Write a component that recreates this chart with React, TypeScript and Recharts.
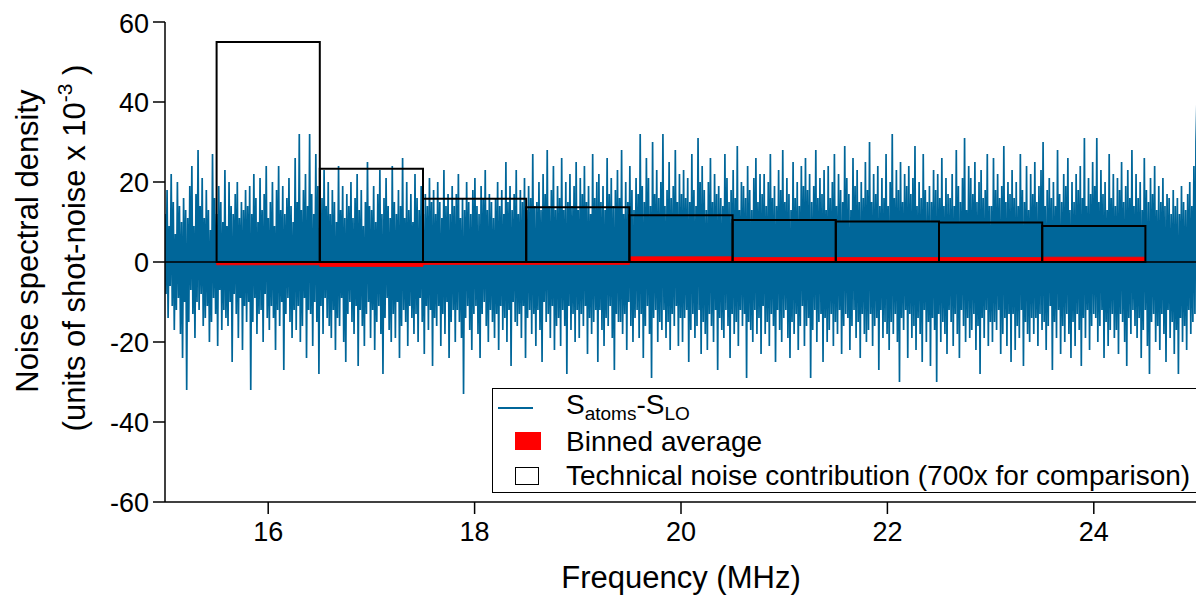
import { ComposedChart, Line, XAxis, YAxis, ReferenceArea, ReferenceLine } from "recharts"

const FONT = "'Liberation Sans', Arial, Helvetica, sans-serif"
const BLUE = "#006699"

// S_atoms - S_LO (units of shot-noise x 1e-3), 15 -> 25 MHz
const noiseValues = [
  12, -8, 18, -14, 9, -6, 22, -11, 15, -17, 7, -12, 20, -9, 14, -18, 10, -24, 16, -10,
  13, -32, 11, -15, 19, -7, 24, -13, 9, -19, 17, -10, 28, -12, 14, -8, 21, -16, 11, -14,
  18, -11, 13, -20, 8, -15, 27, -9, 16, -13, 12, -21, 19, -7, 15, -17, 10, -12, 23, -14,
  9, -16, 20, -10, 14, -25, 12, -8, 17, -13, 20, -19, 11, -9, 15, -22, 13, -11, 18, -15,
  14, -10, 19, -32, 12, -15, 22, -9, 16, -18, 10, -13, 21, -12, 13, -20, 17, -8, 24, -14,
  11, -17, 15, -11, 20, -14, 9, -22, 18, -12, 24, -16, 13, -10, 19, -27, 12, -13, 16, -9,
  21, -15, 14, -19, 10, -12, 26, -17, 15, -11, 32, -20, 13, -16, 18, -9, 22, -24, 14, -12,
  32, -13, 17, -21, 12, -10, 27, -15, 19, -28, 13, -11, 16, -18, 23, -9, 14, -14, 20, -16,
  12, -19, 18, -12, 15, -22, 10, -14, 24, -16, 13, -9, 19, -20, 11, -25, 17, -13, 14, -10,
  20, -15, 11, -18, 16, -11, 22, -26, 13, -12, 18, -16, 9, -21, 15, -13, 25, -10, 14, -19,
  13, -12, 19, -22, 10, -15, 17, -11, 23, -18, 12, -28, 16, -14, 21, -9, 14, -17, 11, -20,
  24, -13, 15, -19, 12, -10, 18, -24, 14, -16, 26, -12, 11, -15, 20, -21, 13, -11, 17, -14,
  10, -18, 22, -13, 16, -20, 13, -9, 19, -15, 12, -23, 17, -11, 14, -17, 21, -12, 15, -26,
  18, -14, 12, -16, 20, -11, 15, -21, 11, -13, 23, -18, 14, -10, 17, -24, 12, -15, 19, -12,
  14, -20, 17, -12, 22, -15, 11, -19, 16, -33, 13, -14, 20, -11, 15, -17, 12, -22, 18, -13,
  21, -11, 14, -18, 12, -24, 19, -13, 16, -10, 23, -16, 13, -20, 17, -12, 15, -15, 11, -19,
  16, -13, 20, -22, 14, -11, 18, -17, 12, -14, 25, -20, 15, -12, 19, -26, 13, -10, 17, -15,
  23, -16, 12, -13, 18, -19, 15, -11, 21, -24, 13, -14, 19, -12, 16, -18, 27, -13, 14, -21,
  15, -12, 20, -17, 13, -25, 22, -10, 17, -15, 28, -13, 14, -19, 18, -11, 24, -22, 13, -16,
  19, -14, 16, -21, 26, -12, 13, -16, 20, -28, 15, -11, 22, -17, 14, -13, 19, -20, 25, -12,
  13, -19, 21, -13, 17, -16, 24, -11, 15, -23, 19, -14, 12, -18, 27, -15, 16, -12, 20, -25,
  22, -12, 15, -17, 19, -21, 13, -14, 26, -16, 17, -11, 21, -19, 14, -27, 18, -13, 23, -15,
  16, -15, 28, -18, 12, -13, 20, -22, 15, -10, 24, -16, 18, -20, 13, -14, 21, -12, 17, -19,
  32, -13, 19, -24, 15, -16, 26, -11, 21, -18, 14, -29, 30, -14, 17, -12, 23, -20, 16, -15,
  20, -17, 32, -12, 14, -19, 18, -15, 25, -22, 16, -13, 19, -16, 28, -11, 15, -21, 22, -14,
  17, -20, 23, -14, 16, -12, 21, -25, 15, -17, 27, -13, 18, -19, 14, -16, 31, -12, 20, -23,
  24, -15, 18, -18, 13, -22, 20, -13, 26, -16, 15, -20, 22, -12, 17, -27, 19, -14, 16, -17,
  14, -19, 27, -12, 21, -16, 15, -24, 18, -13, 23, -18, 16, -15, 29, -21, 13, -12, 20, -16,
  19, -13, 16, -29, 24, -15, 18, -17, 13, -20, 21, -12, 26, -18, 15, -14, 22, -23, 17, -11,
  22, -18, 14, -15, 20, -21, 27, -13, 16, -16, 19, -25, 14, -12, 23, -17, 18, -20, 28, -14,
  15, -12, 21, -19, 17, -24, 13, -15, 25, -18, 16, -13, 20, -22, 14, -16, 24, -11, 19, -21,
  26, -16, 18, -14, 22, -29, 15, -17, 19, -12, 28, -20, 16, -15, 21, -13, 17, -25, 23, -14,
  13, -20, 24, -17, 16, -13, 20, -21, 27, -15, 14, -18, 22, -12, 18, -23, 15, -16, 29, -13,
  21, -14, 17, -22, 13, -16, 26, -12, 19, -19, 23, -15, 15, -24, 20, -13, 16, -18, 25, -20,
  18, -17, 30, -13, 15, -21, 22, -16, 17, -14, 24, -27, 14, -12, 21, -19, 16, -15, 27, -18,
  14, -22, 20, -15, 32, -18, 16, -13, 23, -20, 18, -30, 25, -14, 15, -17, 22, -12, 19, -24,
  24, -13, 17, -19, 21, -16, 29, -22, 14, -14, 20, -18, 16, -25, 27, -12, 18, -20, 15, -15,
  19, -26, 15, -14, 23, -17, 18, -30, 22, -13, 16, -20, 26, -15, 14, -18, 21, -23, 17, -12,
  16, -15, 22, -21, 14, -13, 28, -18, 19, -24, 15, -12, 21, -16, 31, -20, 13, -14, 24, -19,
  21, -17, 17, -13, 25, -22, 15, -16, 20, -28, 23, -14, 16, -19, 18, -12, 27, -21, 14, -15,
  14, -20, 26, -15, 18, -17, 22, -12, 16, -23, 19, -18, 29, -14, 15, -21, 20, -13, 17, -25,
  23, -13, 16, -22, 20, -16, 14, -19, 27, -12, 18, -26, 15, -15, 24, -18, 13, -20, 22, -14,
  17, -18, 25, -14, 15, -21, 19, -13, 23, -17, 30, -15, 14, -22, 18, -16, 21, -11, 16, -27,
  20, -15, 14, -19, 28, -12, 17, -23, 15, -16, 22, -20, 19, -13, 26, -18, 13, -24, 20, -15,
  15, -21, 22, -13, 18, -17, 24, -26, 16, -14, 31, -19, 14, -12, 21, -22, 17, -16, 25, -13,
  19, -14, 31, -20, 15, -16, 23, -12, 17, -24, 20, -15, 13, -21, 27, -17, 16, -13, 22, -19,
  14, -17, 21, -23, 18, -13, 25, -15, 15, -20, 19, -26, 23, -14, 16, -18, 28, -12, 14, -16,
  22, -19, 16, -14, 20, -24, 13, -17, 26, -12, 18, -21, 15, -28, 21, -15, 17, -13, 24, -20,
  13, -16, 19, -22, 15, -13, 21, -18, 14, -25, 17, -12, 16, -19, 12, -15, 18, -23, 14, -17,
  16, -28, 12, -14, 19, -20, 15, -16, 13, -22, 17, -12, 20, -18, 14, -15, 24, -13, 30, 41,
]
const freqStart = 15
const freqEnd = 25

// 1 MHz bins
const binLow = [15.5, 16.5, 17.5, 18.5, 19.5, 20.5, 21.5, 22.5, 23.5]
const binHigh = [16.5, 17.5, 18.5, 19.5, 20.5, 21.5, 22.5, 23.5, 24.5]
const binnedAverage = [-0.7, -1.1, -0.6, -0.6, 1.3, 1.1, 1.1, 1.1, 1.2]
const technicalNoise = [55, 23.3, 15.8, 13.7, 11.7, 10.5, 10.1, 9.9, 9.0]

const xTicks = [16, 18, 20, 22, 24]
const yTicks = [-60, -40, -20, 0, 20, 40, 60]

const data = noiseValues.map((v, i) => ({
  f: freqStart + (i * (freqEnd - freqStart)) / (noiseValues.length - 1),
  v,
}))

const tickStyle = { fill: "#000", fontSize: 27, fontFamily: FONT }

function YTitle() {
  return (
    <g fontFamily={FONT} fontSize={31} fill="#000">
      <text transform="translate(30,233) rotate(-90)" textAnchor="middle">
        Noise spectral density
      </text>
      <text transform="translate(77,240) rotate(-90)" textAnchor="middle">
        (units of shot-noise x 10
        <tspan dy={-13} fontSize={21}>-3</tspan>
        <tspan dy={13}>{" )"}</tspan>
      </text>
    </g>
  )
}

function XTitle() {
  return (
    <text x={673} y={580} textAnchor="middle" fontFamily={FONT} fontSize={31} fill="#000">
      Frequency (MHz)
    </text>
  )
}

function NoiseLegend() {
  const row = { position: "absolute" as const, left: 73, fontSize: 28, lineHeight: "28px", whiteSpace: "nowrap" as const }
  return (
    <div
      style={{
        position: "absolute",
        left: 484,
        top: 380,
        width: 704,
        height: 103,
        background: "#fff",
        border: "1.5px solid #000",
        fontFamily: FONT,
        color: "#000",
      }}
    >
      <div style={{ position: "absolute", left: 5, top: 18, width: 35, height: 1.5, background: BLUE }} />
      <div style={{ ...row, top: 2 }}>
        S<sub style={{ fontSize: 19, verticalAlign: "-6px" }}>atoms</sub>-S
        <sub style={{ fontSize: 19, verticalAlign: "-6px" }}>LO</sub>
      </div>
      <div style={{ position: "absolute", left: 22, top: 43, width: 26, height: 18, background: "#ff0000" }} />
      <div style={{ ...row, top: 39 }}>Binned average</div>
      <div
        style={{ position: "absolute", left: 22, top: 78, width: 22, height: 16, border: "1.5px solid #000", background: "#fff" }}
      />
      <div style={{ ...row, top: 73 }}>Technical noise contribution (700x for comparison)</div>
    </div>
  )
}

export default function App() {
  return (
    <div style={{ position: "relative", width: 1196, height: 589 }}>
      <ComposedChart width={1196} height={589} data={data} margin={{ top: 14, right: 7, bottom: 0, left: 0 }}>
        <XAxis
          dataKey="f"
          type="number"
          domain={[freqStart, freqEnd]}
          ticks={xTicks}
          tickSize={12}
          tickMargin={8}
          height={95}
          stroke="#000"
          strokeWidth={1.5}
          tick={tickStyle}
          allowDataOverflow
          label={<XTitle />}
        />
        <YAxis
          type="number"
          domain={[-60, 60]}
          ticks={yTicks}
          tickSize={12}
          tickMargin={4}
          width={157}
          stroke="#000"
          strokeWidth={1.5}
          tick={tickStyle}
          allowDataOverflow
          label={<YTitle />}
        />
        <Line
          dataKey="v"
          type="linear"
          stroke={BLUE}
          strokeWidth={1.7}
          dot={false}
          activeDot={false}
          isAnimationActive={false}
        />
        {binLow.map((lo, i) => (
          <ReferenceArea
            key={`avg-${i}`}
            x1={lo}
            x2={binHigh[i]}
            y1={0}
            y2={binnedAverage[i]}
            fill="#ff0000"
            fillOpacity={1}
            stroke="#ff0000"
            strokeWidth={0.8}
            zIndex={1500}
          />
        ))}
        {binLow.map((lo, i) => (
          <ReferenceArea
            key={`tech-${i}`}
            x1={lo}
            x2={binHigh[i]}
            y1={0}
            y2={technicalNoise[i]}
            fill="none"
            fillOpacity={0}
            stroke="#000"
            strokeWidth={2}
            zIndex={1600}
          />
        ))}
        <ReferenceLine y={0} stroke="#000" strokeWidth={1.5} zIndex={1550} />
      </ComposedChart>
      <NoiseLegend />
    </div>
  )
}
